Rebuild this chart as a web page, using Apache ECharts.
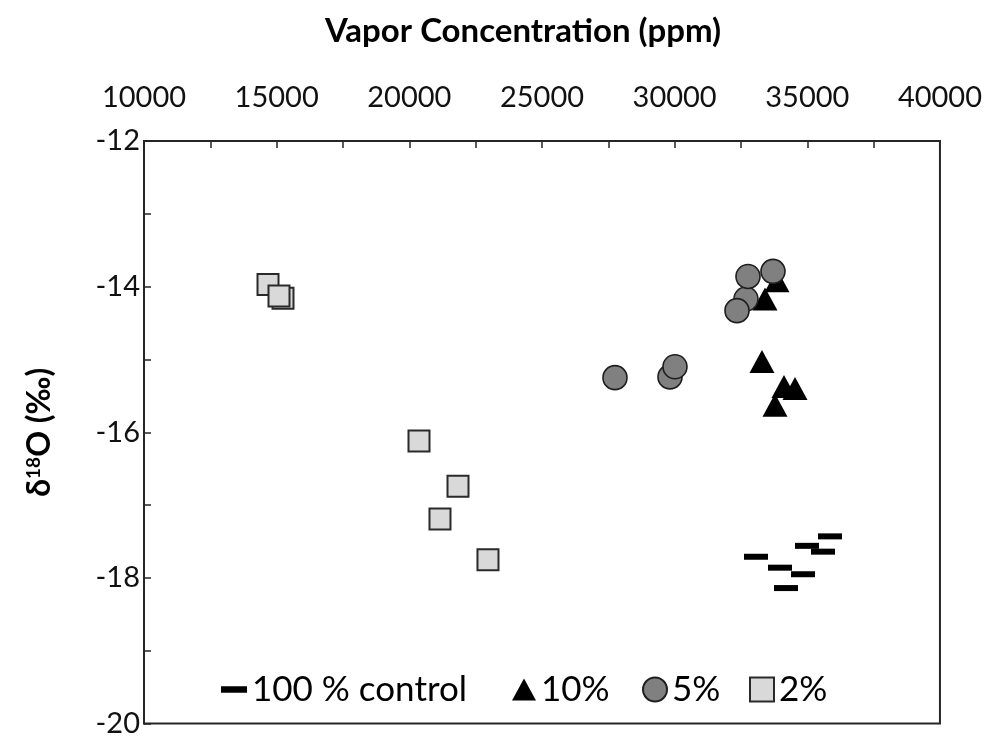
<!DOCTYPE html>
<html>
<head>
<meta charset="utf-8">
<script src="https://cdn.jsdelivr.net/npm/echarts@6/dist/echarts.min.js"></script>
<style>
html,body{margin:0;padding:0;background:#fff;}
#chart{width:985px;height:738px;}
</style>
</head>
<body>
<div id="chart"></div>
<script>
// Data: [vapor concentration (ppm), d18O (permil)]
const control100 = [[35855,-17.43],[34989,-17.56],[35592,-17.64],[33066,-17.71],[33971,-17.86],[34838,-17.95],[34197,-18.14]];
const pct10 = [[33858,-13.92],[33405,-14.17],[33292,-15.03],[34122,-15.37],[34537,-15.40],[33783,-15.63]];
const pct5 = [[32689,-14.17],[32765,-13.86],[33707,-13.79],[32350,-14.33],[27752,-15.25],[29825,-15.24],[30013,-15.10]];
const pct2 = [[14674,-13.97],[15239,-14.16],[15088,-14.13],[20365,-16.12],[21835,-16.74],[21156,-17.19],[22965,-17.75]];
const seriesNames = ['100 % control','10%','5%','2%'];
const xTitle = 'Vapor Concentration (ppm)';

const FONT = 'Lato';
const chart = echarts.init(document.getElementById('chart'), null, {renderer:'canvas'});
const dashPath = 'path://M0,0H4V1H0Z';
function legendAt(left, name, icon, w, h){
  return {left:left, top:667, itemWidth:w, itemHeight:h, itemGap:0, symbolKeepAspect:true,
    textStyle:{fontFamily:FONT, fontSize:35, color:'#000', padding:[0,0,0,0]},
    data:[{name:name, icon:icon}], selectedMode:false};
}
chart.setOption({
  animation:false,
  backgroundColor:'#fff',
  title:{text:xTitle, left:518, textAlign:'center', top:10,
    textStyle:{fontFamily:FONT, fontSize:33, fontWeight:'bold', color:'#000'}},
  grid:{left:144, top:141, right:45, bottom:11, show:true, borderColor:'#262626', borderWidth:2, containLabel:false},
  legend:[
    legendAt(216, seriesNames[0], dashPath, 26, 24),
    legendAt(507, seriesNames[1], 'triangle', 24, 22),
    legendAt(637, seriesNames[2], 'circle', 24, 24),
    legendAt(744, seriesNames[3], 'rect', 24, 24)
  ],
  xAxis:{type:'value', position:'top', min:10000, max:40000, interval:2500,
    axisLine:{show:true, lineStyle:{color:'#262626', width:2}},
    axisTick:{show:true, inside:true, length:7, lineStyle:{color:'#262626', width:1.5}},
    splitLine:{show:false},
    axisLabel:{fontFamily:FONT, fontSize:29, color:'#111', margin:29,
      formatter:function(v){return v % 5000 === 0 ? String(v) : '';}}
  },
  yAxis:{type:'value', min:-20, max:-12, interval:1,
    name:'{b|δ}{s|18}{b|O (‰)}', nameLocation:'middle', nameGap:88, nameRotate:90,
    nameTextStyle:{rich:{
      b:{fontFamily:FONT, fontSize:32, fontWeight:'bold', color:'#000'},
      s:{fontFamily:FONT, fontSize:19, fontWeight:'bold', color:'#000', verticalAlign:'top', padding:[0,0,12,0]}
    }},
    axisLine:{show:true, lineStyle:{color:'#262626', width:2}},
    axisTick:{show:true, inside:true, length:7, lineStyle:{color:'#262626', width:1.5}},
    splitLine:{show:false},
    axisLabel:{fontFamily:FONT, fontSize:29, color:'#111', margin:4,
      formatter:function(v){return v % 2 === 0 ? String(v) : '';}}
  },
  series:[
    {name:seriesNames[0], type:'scatter', data:control100, symbol:dashPath, symbolKeepAspect:false, symbolSize:[24,6],
      itemStyle:{color:'#000', opacity:1}},
    {name:seriesNames[1], type:'scatter', data:pct10, symbol:'triangle', symbolSize:[25,23],
      itemStyle:{color:'#000', opacity:1}},
    {name:seriesNames[2], type:'scatter', data:pct5, symbol:'circle', symbolSize:24,
      itemStyle:{color:'#808080', borderColor:'#1e1e1e', borderWidth:1.6, opacity:1}},
    {name:seriesNames[3], type:'scatter', data:pct2, symbol:'rect', symbolSize:21,
      itemStyle:{color:'#d9d9d9', borderColor:'#2a2a2a', borderWidth:2, opacity:1}}
  ]
});
</script>
</body>
</html>
